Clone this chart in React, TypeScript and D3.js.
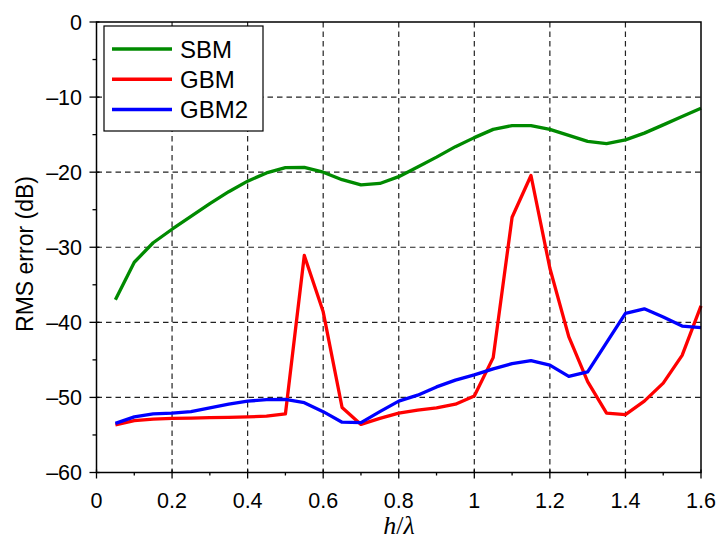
import { useEffect, useRef } from "react";
import * as d3 from "d3";

const xValues = [
  0.05, 0.1, 0.15, 0.2, 0.25, 0.3, 0.35, 0.4, 0.45, 0.5, 0.55, 0.6, 0.65, 0.7, 0.75, 0.8,
  0.85, 0.9, 0.95, 1.0, 1.05, 1.1, 1.15, 1.2, 1.25, 1.3, 1.35, 1.4, 1.45, 1.5, 1.55, 1.6,
];

const sbm = [
  -37.0, -32.0, -29.4, -27.6, -25.9, -24.2, -22.6, -21.2, -20.1, -19.4, -19.35, -20.0, -21.0, -21.7, -21.5, -20.6,
  -19.3, -18.0, -16.6, -15.4, -14.3, -13.8, -13.8, -14.3, -15.1, -15.9, -16.2, -15.7, -14.8, -13.7, -12.6, -11.5,
];

const gbm = [
  -53.65, -53.1, -52.9, -52.8, -52.75, -52.7, -52.65, -52.6, -52.5, -52.2, -31.1, -38.6, -51.35, -53.6, -52.8, -52.1,
  -51.7, -51.4, -50.9, -49.8, -44.7, -26.0, -20.45, -32.8, -41.9, -47.9, -52.1, -52.3, -50.5, -48.1, -44.4, -37.8,
];

const gbm2 = [
  -53.45, -52.6, -52.2, -52.1, -51.9, -51.4, -50.9, -50.5, -50.3, -50.25, -50.7, -51.9, -53.3, -53.35, -51.9, -50.5,
  -49.7, -48.6, -47.7, -47.0, -46.2, -45.5, -45.1, -45.7, -47.2, -46.6, -42.7, -38.8, -38.2, -39.3, -40.5, -40.7,
];

const seriesNames = ["SBM", "GBM", "GBM2"];
const seriesColors = ["#008a00", "#ff0000", "#0000ff"];

const xTicks = [0, 0.2, 0.4, 0.6, 0.8, 1.0, 1.2, 1.4, 1.6];
const xMinorTicks = [0.1, 0.3, 0.5, 0.7, 0.9, 1.1, 1.3, 1.5];
const yTicks = [0, -10, -20, -30, -40, -50, -60];
const yMinorTicks = [-5, -15, -25, -35, -45, -55];

const FONT = "'Liberation Sans', Arial, Helvetica, sans-serif";

export default function App() {
  const svgRef = useRef<SVGSVGElement | null>(null);

  useEffect(() => {
    if (!svgRef.current) return;
    const width = 717;
    const height = 551;
    const left = 96.5, right = 701, top = 22, bottom = 472.5;

    const svg = d3.select(svgRef.current);
    svg.selectAll("*").remove();
    svg.attr("width", width).attr("height", height);

    svg.append("rect").attr("width", width).attr("height", height).attr("fill", "#fff");

    const x = d3.scaleLinear().domain([0, 1.6]).range([left, right]);
    const y = d3.scaleLinear().domain([-60, 0]).range([bottom, top]);

    // grid
    const grid = svg.append("g")
      .attr("stroke", "#222")
      .attr("stroke-width", 1.2)
      .attr("stroke-dasharray", "5.5,4");
    grid.selectAll("line.gx")
      .data(xTicks.slice(1, -1))
      .enter()
      .append("line")
      .attr("x1", d => x(d)).attr("x2", d => x(d))
      .attr("y1", top).attr("y2", bottom);
    grid.selectAll("line.gy")
      .data(yTicks.slice(1, -1))
      .enter()
      .append("line")
      .attr("y1", d => y(d)).attr("y2", d => y(d))
      .attr("x1", left).attr("x2", right);

    // ticks
    const ticks = svg.append("g").attr("stroke", "#000").attr("stroke-width", 1.3);
    ticks.selectAll("line.xt")
      .data(xTicks)
      .enter()
      .append("line")
      .attr("x1", d => x(d)).attr("x2", d => x(d))
      .attr("y1", bottom - 3).attr("y2", bottom + 6);
    ticks.selectAll("line.xm")
      .data(xMinorTicks)
      .enter()
      .append("line")
      .attr("x1", d => x(d)).attr("x2", d => x(d))
      .attr("y1", bottom).attr("y2", bottom + 3);
    ticks.selectAll("line.yt")
      .data(yTicks)
      .enter()
      .append("line")
      .attr("y1", d => y(d)).attr("y2", d => y(d))
      .attr("x1", left - 7).attr("x2", left + 3);
    ticks.selectAll("line.ym")
      .data(yMinorTicks)
      .enter()
      .append("line")
      .attr("y1", d => y(d)).attr("y2", d => y(d))
      .attr("x1", left - 4).attr("x2", left);

    // tick labels
    svg.selectAll("text.xl")
      .data(xTicks)
      .enter()
      .append("text")
      .attr("x", d => x(d))
      .attr("y", 508)
      .attr("text-anchor", "middle")
      .attr("font-family", FONT)
      .attr("font-size", 21.5)
      .text(d => String(d));
    svg.selectAll("text.yl")
      .data(yTicks)
      .enter()
      .append("text")
      .attr("x", 82)
      .attr("y", d => y(d) + 7.5)
      .attr("text-anchor", "end")
      .attr("font-family", FONT)
      .attr("font-size", 21.5)
      .text(d => (d < 0 ? "\u2013" + Math.abs(d) : String(d)));

    // axis labels
    svg.append("text")
      .attr("transform", `translate(33,254) rotate(-90)`)
      .attr("text-anchor", "middle")
      .attr("font-family", FONT)
      .attr("font-size", 23)
      .text("RMS error (dB)");

    const xl = svg.append("text")
      .attr("x", 399)
      .attr("y", 534)
      .attr("text-anchor", "middle")
      .attr("font-family", "'Liberation Serif', 'DejaVu Serif', serif")
      .attr("font-style", "italic")
      .attr("font-size", 26);
    xl.append("tspan").text("h");
    xl.append("tspan").attr("font-style", "normal").text("/");
    xl.append("tspan").text("\u03bb");

    // lines
    const line = d3.line<number>()
      .x((_, i) => x(xValues[i]))
      .y(d => y(d));

    [sbm, gbm, gbm2].forEach((s, i) => {
      svg.append("path")
        .datum(s)
        .attr("d", line)
        .attr("fill", "none")
        .attr("stroke", seriesColors[i])
        .attr("stroke-width", 3.3)
        .attr("stroke-linejoin", "round");
    });

    // frame
    svg.append("rect")
      .attr("x", left).attr("y", top)
      .attr("width", right - left).attr("height", bottom - top)
      .attr("fill", "none")
      .attr("stroke", "#000")
      .attr("stroke-width", 1.5);

    // legend
    const lg = svg.append("g");
    lg.append("rect")
      .attr("x", 104).attr("y", 26)
      .attr("width", 159).attr("height", 105)
      .attr("fill", "#fff")
      .attr("stroke", "#000")
      .attr("stroke-width", 1.2);
    seriesNames.forEach((name, i) => {
      const ly = 49 + i * 30.2;
      lg.append("line")
        .attr("x1", 112).attr("x2", 172)
        .attr("y1", ly).attr("y2", ly)
        .attr("stroke", seriesColors[i])
        .attr("stroke-width", 3.5);
      lg.append("text")
        .attr("x", 180)
        .attr("y", ly + 8.5)
        .attr("font-family", FONT)
        .attr("font-size", 24)
        .text(name);
    });
  }, []);

  return <svg ref={svgRef} style={{ position: "absolute", left: 0, top: 0, display: "block" }} />;
}
